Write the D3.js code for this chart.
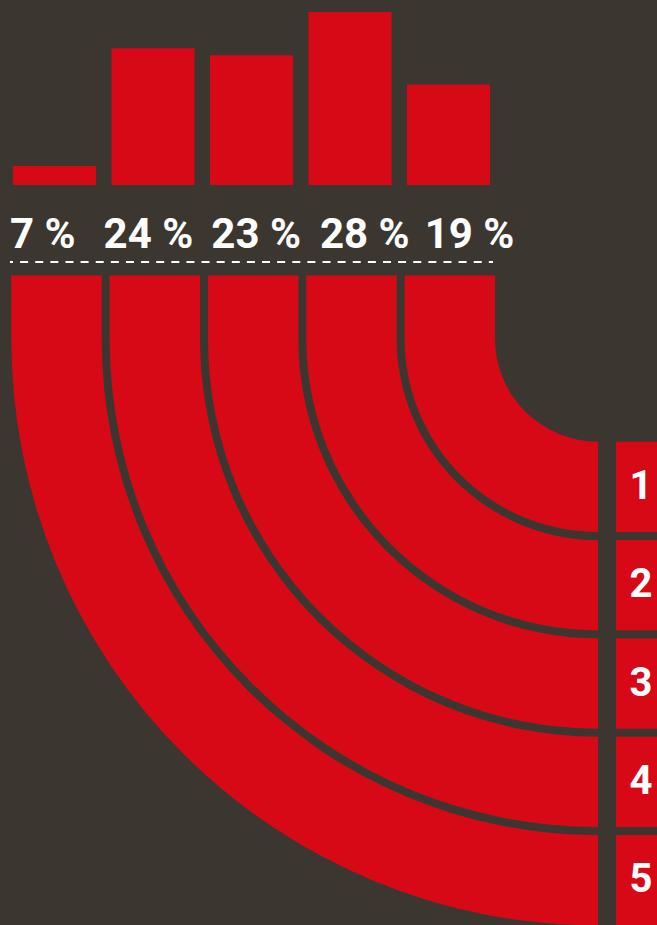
<!DOCTYPE html>
<html>
<head>
<meta charset="utf-8">
<script src="https://cdn.jsdelivr.net/npm/d3@7"></script>
<style>
	body { margin: 0; background: #3c3631; }
	svg { display: block; }
</style>
</head>
<body>
<div id="chart"></div>
<script>
// shares shown under the bars, left to right
const shares = [7, 24, 23, 28, 19];
// bar heights (index, tallest = 100)
const barValues = [11, 79, 75, 100, 58];
// row numbers on the right, top to bottom
const rowLabels = ["1", "2", "3", "4", "5"];

const width = 657, height = 925;
const bg = "#3c3631", red = "#d80916";

const svg = d3.select("#chart").append("svg")
	.attr("width", width)
	.attr("height", height);

svg.append("rect")
	.attr("width", width)
	.attr("height", height)
	.attr("fill", bg);

const idx = d3.range(shares.length);

// top bars
const xBar = d3.scaleBand()
	.domain(idx)
	.range([13, 490])
	.paddingInner(0.157);

const yBar = d3.scaleLinear()
	.domain([0, 100])
	.range([185, 12]);

svg.append("g")
	.selectAll("rect")
	.data(barValues)
	.join("rect")
	.attr("x", (d, i) => xBar(i))
	.attr("y", d => yBar(d))
	.attr("width", xBar.bandwidth())
	.attr("height", d => yBar(0) - yBar(d))
	.attr("fill", red);

// percentage labels, set as one line of text
const gaps = [0, 28, 18, 19, 15];
const label = svg.append("text")
	.attr("x", 10)
	.attr("y", 248)
	.attr("fill", "#fff")
	.style("font", "bold 42px Roboto");

label.selectAll("tspan")
	.data(shares)
	.join("tspan")
	.attr("dx", (d, i) => gaps[i])
	.text(d => `${d} %`);

// dashed rule
svg.append("line")
	.attr("x1", 10)
	.attr("x2", 493)
	.attr("y1", 262)
	.attr("y2", 262)
	.attr("stroke", "#fff")
	.attr("stroke-width", 2)
	.attr("stroke-dasharray", "8,7.12")
	.attr("stroke-dashoffset", 5);

// bent bands: column i turns into row (n - i)
const xCol = d3.scaleBand()
	.domain(idx)
	.range([11.3, 495])
	.paddingInner(0.081);

const colTop = 275.5;
const cx = 598, cy = 338.7;
const boxX = 616;

const bands = idx.map(i => {
	const ro = cx - xCol(i);
	const ri = ro - xCol.bandwidth();
	return {i, ro, ri};
});

function bandPath(b) {
	const p = d3.path();
	p.moveTo(cx - b.ro, colTop);
	p.lineTo(cx - b.ro, cy);
	p.arc(cx, cy, b.ro, Math.PI, Math.PI / 2, true);
	p.lineTo(cx, cy + b.ri);
	p.arc(cx, cy, b.ri, Math.PI / 2, Math.PI, false);
	p.lineTo(cx - b.ri, colTop);
	p.closePath();
	return p.toString();
}

svg.append("g")
	.selectAll("path")
	.data(bands)
	.join("path")
	.attr("d", bandPath)
	.attr("fill", red);

// numbered boxes on the right
const rows = bands.slice().sort((a, b) => a.ri - b.ri);

const box = svg.append("g")
	.selectAll("g")
	.data(rows)
	.join("g");

box.append("rect")
	.attr("x", boxX)
	.attr("y", d => cy + d.ri)
	.attr("width", width - boxX)
	.attr("height", d => d.ro - d.ri)
	.attr("fill", red);

box.append("text")
	.attr("x", 641)
	.attr("y", d => cy + (d.ri + d.ro) / 2 + 12)
	.attr("text-anchor", "middle")
	.attr("fill", "#fff")
	.style("font", "bold 40px Roboto")
	.text((d, k) => rowLabels[k]);
</script>
</body>
</html>
